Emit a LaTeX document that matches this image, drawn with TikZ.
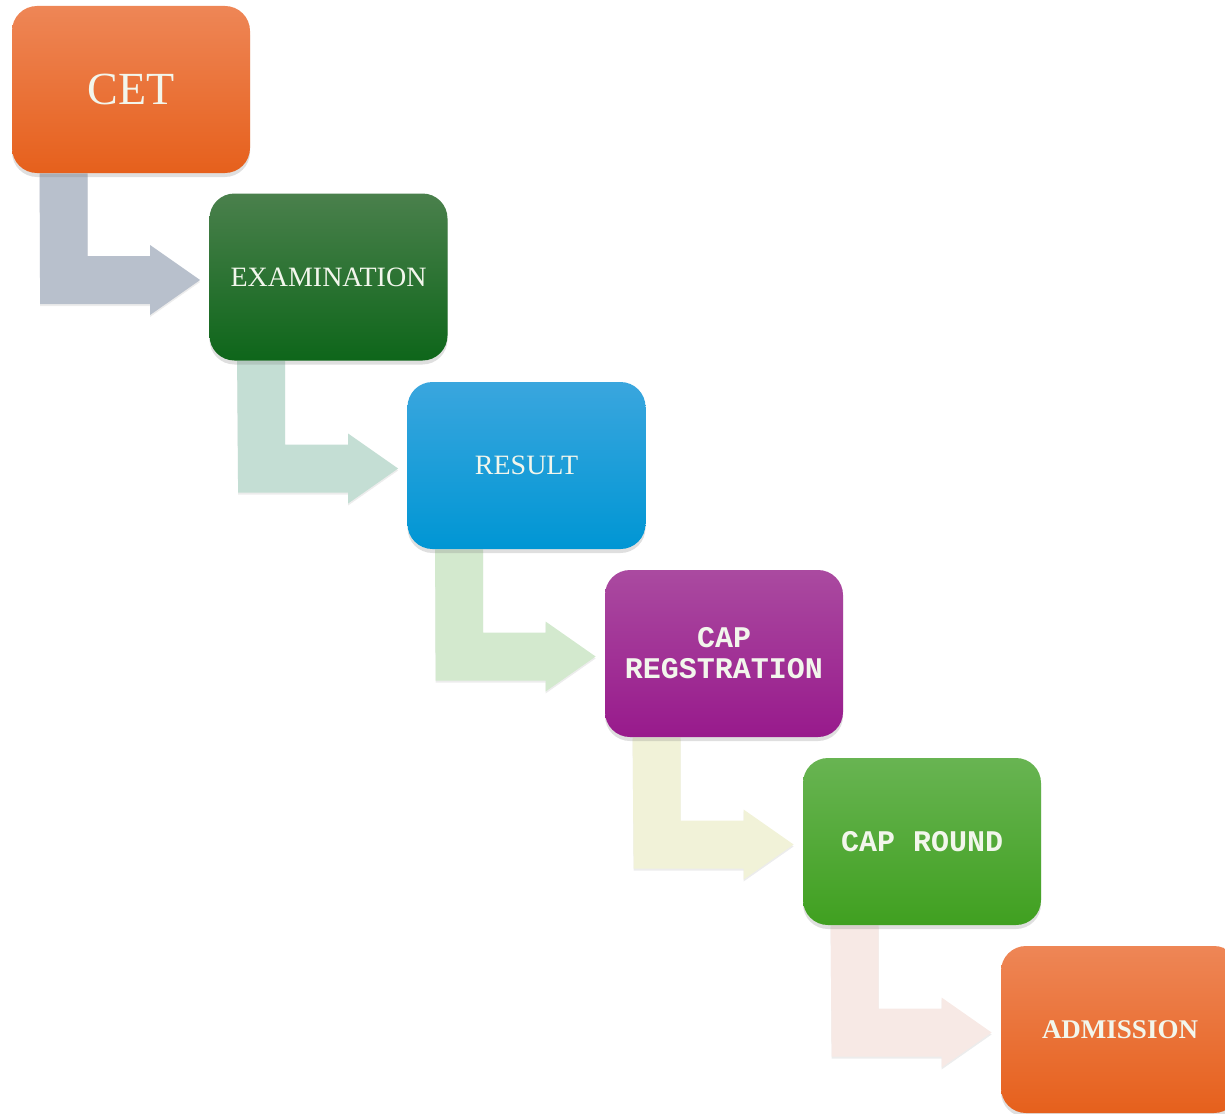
\documentclass[tikz,border=0pt]{standalone}
\usepackage{fontspec}
\setmainfont{Liberation Serif}
\setmonofont{Liberation Mono}
\usepackage{xcolor}
\usepackage{tikz}
\usetikzlibrary{positioning,calc,shadows,backgrounds}
\definecolor{orangetop}{RGB}{238,134,86}
\definecolor{orangebottom}{RGB}{230,96,28}
\definecolor{darkgreentop}{RGB}{74,128,76}
\definecolor{darkgreenbottom}{RGB}{14,102,26}
\definecolor{bluetop}{RGB}{58,166,222}
\definecolor{bluebottom}{RGB}{0,150,212}
\definecolor{purpletop}{RGB}{170,74,160}
\definecolor{purplebottom}{RGB}{152,26,140}
\definecolor{greentop}{RGB}{104,180,82}
\definecolor{greenbottom}{RGB}{64,160,32}
\definecolor{boxtext}{RGB}{242,246,236}
\definecolor{arrowgrey}{RGB}{184,192,204}
\definecolor{arrowmint}{RGB}{196,222,212}
\definecolor{arrowlime}{RGB}{211,233,206}
\definecolor{arrowcream}{RGB}{241,242,216}
\definecolor{arrowpink}{RGB}{247,233,229}

% bent block arrow from the bottom of #1 to the left side of #2
\newcommand{\flowarrow}[3]{%
  \fill[#3, drop shadow={shadow xshift=0pt, shadow yshift=-1pt, opacity=0.15}]
    ($(#1.south west)+(28,0)$) -- ($(#1.south west)+(76,0)$)
    |- ($(#2.west)+(-59,-21)$) -- ($(#2.west)+(-59,-32)$)
    -- ($(#2.west)+(-9,3)$) -- ($(#2.west)+(-59,38)$)
    -- ($(#2.west)+(-59,27)$) -- ($(#2.west)+(-169,27)$) -- cycle;
}

\begin{document}
\begin{tikzpicture}[x=0.5pt, y=-0.5pt,
    stepbox/.style={rounded corners=12.5pt, minimum width=119pt, minimum height=83.5pt,
      inner sep=0pt, align=center, text=boxtext,
      drop shadow={shadow xshift=0pt, shadow yshift=-2pt, opacity=0.25}},
    monotext/.style={font=\fontsize{15}{15.5}\selectfont\ttfamily\bfseries}]
  \clip (0,0) rectangle (1225,1113);

  % process boxes
  \node[stepbox, top color=orangetop, bottom color=orangebottom,
    font=\fontsize{23}{26}\selectfont] (cet) at (131,89.5) {CET};
  \node[stepbox, top color=darkgreentop, bottom color=darkgreenbottom,
    font=\fontsize{14}{17}\selectfont] (exam) at (328.5,277) {EXAMINATION};
  \node[stepbox, top color=bluetop, bottom color=bluebottom,
    font=\fontsize{14}{17}\selectfont] (result) at (526.5,465.5) {RESULT};
  \node[stepbox, monotext, top color=purpletop, bottom color=purplebottom]
    (capreg) at (724,653.5) {CAP\\REGSTRATION};
  \node[stepbox, monotext, top color=greentop, bottom color=greenbottom]
    (capround) at (922,841.5) {CAP ROUND};
  \node[stepbox, top color=orangetop, bottom color=orangebottom,
    font=\fontsize{13.5}{16}\selectfont\bfseries] (admission) at (1120,1029.5) {ADMISSION};

  % arrows behind the boxes
  \begin{scope}[on background layer]
    \flowarrow{cet}{exam}{arrowgrey}
    \flowarrow{exam}{result}{arrowmint}
    \flowarrow{result}{capreg}{arrowlime}
    \flowarrow{capreg}{capround}{arrowcream}
    \flowarrow{capround}{admission}{arrowpink}
  \end{scope}
\end{tikzpicture}
\end{document}
